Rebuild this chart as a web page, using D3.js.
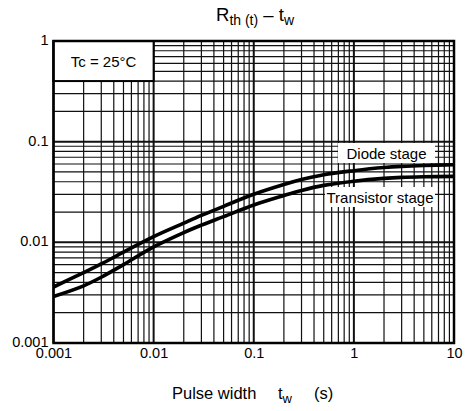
<!DOCTYPE html>
<html>
<head>
<meta charset="utf-8">
<script src="https://cdn.jsdelivr.net/npm/d3@7"></script>
<style>
  body { margin: 0; background: #fff; }
  text { font-family: "Liberation Sans", Arial, sans-serif; fill: #000; }
</style>
</head>
<body>
<div id="chart"></div>
<script>
const W = 467, H = 411;
const LEFT = 53.5, RIGHT = 454, TOP = 41, BOTTOM = 343;

// pulse width (s)
var pulseWidth = [0.001, 0.002, 0.003, 0.005, 0.01, 0.02, 0.03, 0.05, 0.1, 0.2, 0.3, 0.5, 1, 2, 3, 5, 10];
// Rth(t) curves
var diodeStage = [0.0036, 0.0050, 0.0061, 0.0080, 0.0114, 0.0155, 0.0185, 0.0228, 0.0300, 0.0375, 0.0420, 0.0470, 0.0515, 0.0553, 0.0568, 0.0580, 0.0590];
var transistorStage = [0.0029, 0.0037, 0.0045, 0.0060, 0.0090, 0.0125, 0.0148, 0.0180, 0.0235, 0.0292, 0.0328, 0.0368, 0.0405, 0.0432, 0.0442, 0.0448, 0.0452];

var xTicks = [0.001, 0.01, 0.1, 1, 10];
var yTicks = [0.001, 0.01, 0.1, 1];

var svg = d3.select("#chart").append("svg")
  .attr("width", W)
  .attr("height", H);

var x = d3.scaleLog().domain([0.001, 10]).range([LEFT, RIGHT]);
var y = d3.scaleLog().domain([0.001, 1]).range([BOTTOM, TOP]);

var isMajor = d => Math.abs(Math.log10(d) - Math.round(Math.log10(d))) < 1e-9;

// grid
var grid = svg.append("g");
grid.selectAll("line.vx")
  .data(x.ticks())
  .enter().append("line")
  .attr("x1", d => x(d)).attr("x2", d => x(d))
  .attr("y1", TOP).attr("y2", BOTTOM)
  .attr("stroke", "#111")
  .attr("stroke-width", d => isMajor(d) ? 2 : 1.2);

grid.selectAll("line.hy")
  .data(y.ticks())
  .enter().append("line")
  .attr("y1", d => y(d)).attr("y2", d => y(d))
  .attr("x1", LEFT).attr("x2", RIGHT)
  .attr("stroke", "#111")
  .attr("stroke-width", d => isMajor(d) ? 2 : 1.2);

// Tc box
svg.append("rect")
  .attr("x", x(0.001)).attr("y", y(1))
  .attr("width", x(0.01) - x(0.001))
  .attr("height", y(0.4) - y(1))
  .attr("fill", "#fff")
  .attr("stroke", "#000")
  .attr("stroke-width", 2);
svg.append("text")
  .attr("x", (x(0.001) + x(0.01)) / 2)
  .attr("y", (y(1) + y(0.4)) / 2 + 5.5)
  .attr("text-anchor", "middle")
  .attr("font-size", 15)
  .text("Tc = 25°C");

// curves
var line = d3.line()
  .x(d => x(d[0]))
  .y(d => y(d[1]))
  .curve(d3.curveCatmullRom.alpha(0.5));

[diodeStage, transistorStage].forEach(s => {
  svg.append("path")
    .datum(pulseWidth.map((p, i) => [p, s[i]]))
    .attr("d", line)
    .attr("fill", "none")
    .attr("stroke", "#000")
    .attr("stroke-width", 3.6);
});

// curve labels
var labels = [
  { text: "Diode stage", x: 338, y: 143, w: 97, h: 20 },
  { text: "Transistor stage", x: 325, y: 187, w: 110, h: 20 }
];
labels.forEach(l => {
  svg.append("rect")
    .attr("x", l.x).attr("y", l.y)
    .attr("width", l.w).attr("height", l.h)
    .attr("fill", "#fff");
  svg.append("text")
    .attr("x", l.x + l.w / 2)
    .attr("y", l.y + l.h / 2 + 5.5)
    .attr("text-anchor", "middle")
    .attr("font-size", 15)
    .text(l.text);
});

// frame
svg.append("rect")
  .attr("x", LEFT).attr("y", TOP)
  .attr("width", RIGHT - LEFT).attr("height", BOTTOM - TOP)
  .attr("fill", "none")
  .attr("stroke", "#000")
  .attr("stroke-width", 2.5);

// axes
var xAxis = svg.append("g")
  .attr("transform", "translate(0," + BOTTOM + ")")
  .call(d3.axisBottom(x).tickValues(xTicks).tickSize(0).tickPadding(5).tickFormat(d3.format("~g")));
var yAxis = svg.append("g")
  .attr("transform", "translate(" + LEFT + ",-1)")
  .call(d3.axisLeft(y).tickValues(yTicks).tickSize(0).tickPadding(5).tickFormat(d3.format("~g")));
[xAxis, yAxis].forEach(a => {
  a.select(".domain").remove();
  a.selectAll("text")
    .attr("font-family", "Liberation Sans, Arial, sans-serif")
    .attr("font-size", 14.5)
    .attr("fill", "#000");
});

// title
var title = svg.append("text")
  .attr("x", 255).attr("y", 21)
  .attr("text-anchor", "middle")
  .attr("font-size", 18.5);
title.append("tspan").text("R");
title.append("tspan").attr("font-size", 14).attr("dy", 4).text("th (t)");
title.append("tspan").attr("dy", -4).text(" \u2013 t");
title.append("tspan").attr("font-size", 14).attr("dy", 4).text("w");

// x title
var xt = svg.append("g").attr("font-size", 16.5);
xt.append("text").attr("x", 172).attr("y", 399).text("Pulse width");
var tw = xt.append("text").attr("x", 278).attr("y", 399);
tw.append("tspan").text("t");
tw.append("tspan").attr("font-size", 13).attr("dy", 4).text("w");
xt.append("text").attr("x", 314).attr("y", 399).text("(s)");
</script>
</body>
</html>
